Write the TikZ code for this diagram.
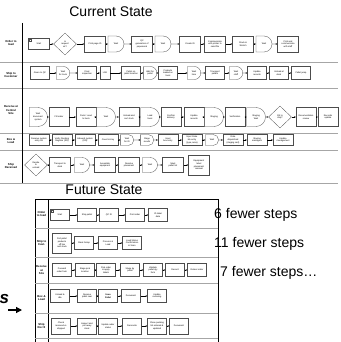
\documentclass[tikz,border=0pt]{standalone}
\usepackage{fontspec}
\setmainfont{Liberation Sans}
\usetikzlibrary{arrows.meta,shapes.geometric,shapes.misc}
\newcommand{\boxfont}{\fontsize{2.2}{2.6}\selectfont}
\newcommand{\lanefont}{\fontsize{2.8}{3.1}\selectfont\bfseries}
\newcommand{\titlefont}{\fontsize{14}{16}\selectfont}

\begin{document}
\begin{tikzpicture}[x=1pt, y=-1pt, every node/.style={font=\boxfont},
    >={Stealth[length=1.8pt,width=1.6pt]},
    box/.style={draw=black!70, line width=0.3pt, fill=white, minimum width=20pt,
        minimum height=13pt, inner sep=0.4pt, align=center},
    smallbox/.style={box, minimum width=10pt},
    tallbox/.style={box, minimum height=20pt},
    boldbox/.style={box, font=\boxfont\bfseries},
    waitbox/.style={box, rounded rectangle, rounded rectangle left arc=none, minimum width=14pt},
    decision/.style={box, diamond, minimum width=23pt, minimum height=22pt},
    startbox/.style={box, minimum height=11pt, path picture={
        \draw ([shift={(0.8pt,-0.8pt)}]path picture bounding box.north west) rectangle ++(1.6pt,-1.6pt);}},
    lane/.style={font=\lanefont, align=center},
    laneline/.style={gray!70, line width=0.9pt},
    flow/.style={->, line width=0.3pt}]
    \useasboundingbox (0,0) rectangle (340,342);

    % Current state
    \node[font=\titlefont] (curtitle) at (111,12) {Current State};

    % Lane lines
    \foreach \y in {62,88,133,150,183}
        \draw[laneline] (0,\y) -- (338,\y);
    \draw[line width=0.8pt] (22.7,23) -- (22.7,183);
    \node[lane] (la) at (11,43) {Order to\\load};
    \node[lane] (lb) at (11,75) {Ship to\\Customer};
    \node[lane] (lc) at (11,110) {Receive at\\Central\\Site};
    \node[lane] (ld) at (11,141) {Box \&\\Load};
    \node[lane] (le) at (11,166) {Ship\\Received};

    % Order to load
    \begin{scope}[box/.append style={minimum width=21pt, minimum height=16pt}]
    \foreach \s/\x/\txt [count=\i] in {startbox/39/Start, decision/65/{Is\\request\\ok?},
        box/95/{Print page ID}, waitbox/116/Wait, box/142/{QC\\generation of\\paperwork},
        waitbox/163/Wait, box/190/{Create ID}, box/215/{Communicate\\with printer to\\send file},
        box/243/{Stack \&\\Stretch}, waitbox/264/Wait, box/288/{Print and\\communicate\\with staff}}
        \node[\s] (ca\i) at (\x,44) {\txt};
    \end{scope}
    \foreach \j [count=\i] in {2,...,11}
        \draw[flow] (ca\i) -- (ca\j);

    % Ship to customer
    \begin{scope}[box/.append style={minimum width=19pt}]
    \foreach \s/\x/\txt [count=\i] in {box/40/{Given to QC}, waitbox/63/{Wait\\for truck},
        box/87/{Final\\inspection}, smallbox/105/LSE, box/131/{Pallet on\\pallet location},
        waitbox/150/{Wait for\\pallet}, box/168/{Products\\loaded on\\truck}, waitbox/194/{Wait\\time},
        box/215/{Transport\\pallets}, waitbox/236/{Wait\\staff}, box/257/{Update\\records},
        box/279/{Unload at\\dock}, box/301/{Pallet jump}}
        \node[\s] (cb\i) at (\x,73) {\txt};
    \end{scope}
    \foreach \j [count=\i] in {2,...,13}
        \draw[flow] (cb\i) -- (cb\j);

    % Receive at central site
    \begin{scope}[box/.append style={minimum height=19pt}]
    \foreach \s/\x/\txt [count=\i] in {waitbox/38/{Wait\\document\\system}, box/59/{Fill order},
        box/86/{Pack / Load\\to truck}, waitbox/106/Wait, box/129/{Unload and\\sort stock},
        waitbox/150/{Load\\truck}, box/171/{Confirm\\delivery}, box/194/{Update\\records},
        waitbox/214/Staging, box/235/Verification, waitbox/256/{Staging\\Wait},
        decision/280/{OK to\\ship?}, box/306/{Documentation\\review}, box/328/{Records\\update}}
        \node[\s] (cc\i) at (\x,117) {\txt};
    \end{scope}
    \foreach \j [count=\i] in {2,...,14}
        \draw[flow] (cc\i) -- (cc\j);

    % Box and load
    \begin{scope}[box/.append style={minimum height=11pt}]
    \foreach \s/\x/\txt [count=\i] in {box/39/{Receive system\\entry list},
        box/62/{Verify Pending\\Register (RR)}, box/85/{Inbound system\\(RR)}, box/108/{Count \& Key},
        waitbox/127/{Wait\\for ID}, waitbox/147/{Stage\\results}, box/168/{Input\\box entry},
        box/192/{Input Cube\\bin entry\\(type, area)}, waitbox/212/Wait,
        box/233/{Data\\dispatched\\(staging cart)}, box/257/{Staging\\managers}, box/283/{Update\\management}}
        \node[\s] (cd\i) at (\x,140) {\txt};
    \end{scope}
    \foreach \j [count=\i] in {2,...,12}
        \draw[flow] (cd\i) -- (cd\j);

    % Ship received
    \begin{scope}[box/.append style={minimum width=21pt, minimum height=15pt}]
    \foreach \s/\x/\txt [count=\i] in {decision/36/{Decide\\to\\unload}, box/60/{Transport to\\dock},
        waitbox/82/Wait, box/105/{Assemble\\equipment}, box/129/{Resolve\\placement},
        waitbox/150/Wait, box/173/{Mark\\pallet list}, tallbox/199/{Equipment\\label\\placement\\removal}}
        \node[\s] (ce\i) at (\x,165) {\txt};
    \end{scope}
    \foreach \j [count=\i] in {2,...,8}
        \draw[flow] (ce\i) -- (ce\j);

    % Future state
    \node[font=\titlefont] (futtitle) at (104,190) {Future State};
    \draw[line width=0.6pt] (35,342) -- (35,199) -- (218,199) -- (218,342);
    \draw[line width=0.6pt] (48,199) -- (48,342);
    \foreach \y in {228,257,283,313,338}
        \draw[laneline, line width=0.7pt] (35,\y) -- (218,\y);
    \node[lane] (fla) at (41.5,214) {Order\\to load};
    \node[lane] (flb) at (41.5,243) {Ship to\\Cust.};
    \node[lane] (flc) at (41.5,270) {Receive\\at\\Site};
    \node[lane] (fld) at (41.5,298) {Box \&\\Load};
    \node[lane] (fle) at (41.5,326) {Ship\\Rec'd};

    \begin{scope}[box/.append style={minimum width=19pt}]
    \foreach \s/\x/\txt [count=\i] in {startbox/60/Start, box/87/{Ship pallet}, box/109/{QC ID},
        box/135/{Print order}, box/158/{ID label\\data}}
        \node[\s] (fa\i) at (\x,215) {\txt};
    \foreach \s/\x/\txt [count=\i] in {tallbox/62/{Pull pallet\\products\\off line\\and stack},
        box/84/{Stack Setup}, box/108/{Process \&\\Load}, box/132/{Load Status\\Confirmation\\\& Scan}}
        \node[\s] (fb\i) at (\x,243) {\txt};
    \foreach \s/\x/\txt [count=\i] in {box/62/{Forward\\order form}, box/85/{Stage pick\\location},
        box/106/{Pick order\\\& apply\\labels}, box/130/{Stage by\\pallet}, box/153/{Validate\\pallet qty\\form},
        box/175/Record, box/197/{Deliver order}}
        \node[\s] (fc\i) at (\x,270) {\txt};
    \foreach \s/\x/\txt [count=\i] in {box/60/{Unload \&\\idle}, box/87/{Receive\\pallet seal},
        boldbox/108/{Scan\\Pallet}, box/131/Document, box/157/{Update\\receiving}}
        \node[\s] (fd\i) at (\x,296) {\txt};
    \foreach \s/\x/\txt [count=\i] in {box/61/{Check\\received vs\\shipped}, box/87/{Inspect and\\put away\\stock},
        box/108/{Update order\\status}, box/132/Reconcile, box/157/{Close packing\\list entered \&\\updated},
        box/179/Document}
        \node[\s, minimum height=16pt] (fe\i) at (\x,326) {\txt};
    \end{scope}
    \foreach \j [count=\i] in {2,...,5}
        \draw[flow] (fa\i) -- (fa\j);
    \foreach \j [count=\i] in {2,...,4}
        \draw[flow] (fb\i) -- (fb\j);
    \foreach \j [count=\i] in {2,...,7}
        \draw[flow] (fc\i) -- (fc\j);
    \foreach \j [count=\i] in {2,...,5}
        \draw[flow] (fd\i) -- (fd\j);
    \foreach \j [count=\i] in {2,...,6}
        \draw[flow] (fe\i) -- (fe\j);

    % Savings
    \node[font=\titlefont, anchor=west, inner sep=0] (sava) at (214,215) {6 fewer steps};
    \node[font=\titlefont, anchor=west, inner sep=0] (savb) at (214,244) {11 fewer steps};
    \node[font=\titlefont, anchor=west, inner sep=0] (savc) at (220,273) {7 fewer steps…};

    % Cut-off text at the left
    \node[font=\fontsize{17}{17}\selectfont\bfseries\itshape, anchor=base west, inner sep=0] (cut) at (-0.5,303) {s};
    \coordinate (arrA) at (8,310);
    \coordinate (arrB) at (22,310);
    \draw[line width=1.2pt, -{Triangle[length=6pt,width=6pt]}] (arrA) -- (arrB);
\end{tikzpicture}
\end{document}
